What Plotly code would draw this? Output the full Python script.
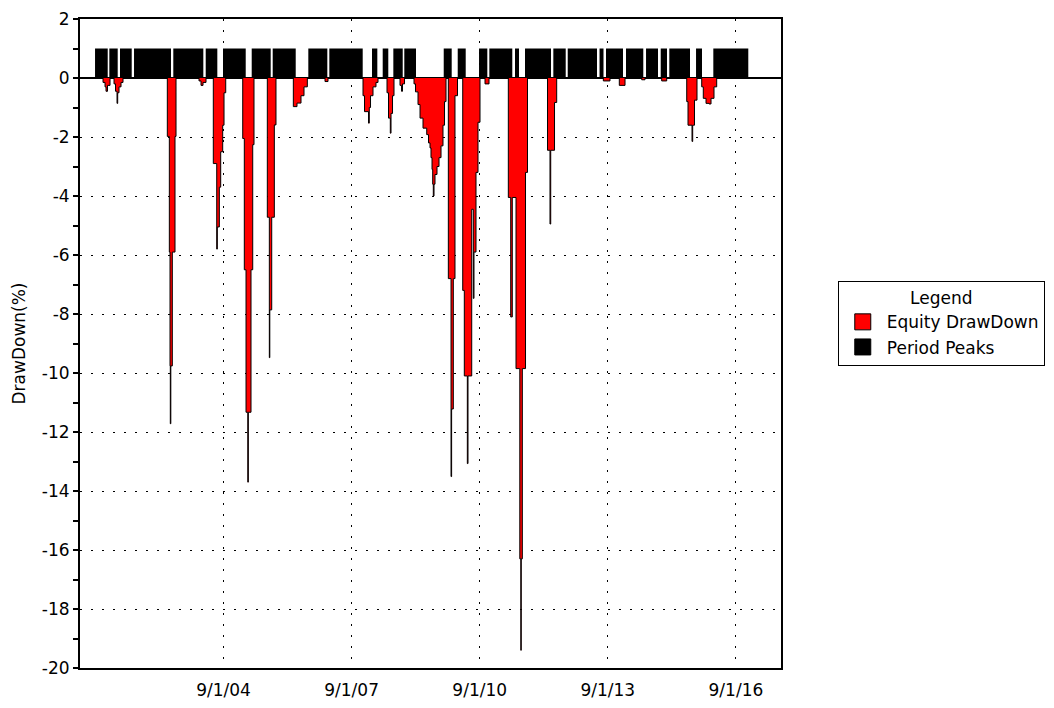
import plotly.graph_objects as go

# ---------------- data ----------------
# Period peaks: intervals (decimal years) where equity sat at a peak; drawn as height-1 blocks
peak_start = [2001.658, 2001.993, 2002.243, 2002.571, 2003.491, 2004.250, 2004.655,
              2005.327, 2005.819, 2006.653, 2007.145, 2008.145, 2008.395, 2008.644,
              2008.901, 2009.824, 2010.152, 2010.651, 2010.892, 2011.494, 2011.728,
              2012.391, 2012.728, 2013.473, 2013.625, 2014.093, 2014.562, 2014.906,
              2015.107, 2015.733, 2016.138]
peak_end = [2001.955, 2002.189, 2002.517, 2003.437, 2004.194, 2004.522, 2005.187,
            2005.772, 2006.358, 2007.098, 2007.927, 2008.269, 2008.526, 2008.864,
            2009.175, 2010.011, 2010.339, 2010.845, 2011.430, 2011.587, 2012.337,
            2012.681, 2013.414, 2013.566, 2014.023, 2014.498, 2014.843, 2015.053,
            2015.592, 2015.873, 2016.957]
peak_height = 1

# Equity drawdown (%) as a step series: (decimal year, drawdown)
dd_year = [
    2001.658,
    2001.845, 2001.892, 2001.915, 2001.950, 2002.009,
    2002.103, 2002.138, 2002.173, 2002.189, 2002.220, 2002.267, 2002.313,
    2003.351, 2003.398, 2003.414, 2003.421, 2003.433, 2003.468, 2003.531, 2003.555,
    2004.093, 2004.140, 2004.187, 2004.257,
    2004.428, 2004.508, 2004.522, 2004.569, 2004.601, 2004.648, 2004.679, 2004.719,
    2005.117, 2005.154, 2005.194, 2005.236, 2005.248, 2005.311, 2005.351, 2005.381,
    2005.693, 2005.740, 2005.751, 2005.796, 2005.857, 2005.896,
    2006.302, 2006.388, 2006.482, 2006.552, 2006.630,
    2007.044, 2007.114,
    2007.934, 2007.969, 2008.063, 2008.081, 2008.110, 2008.168, 2008.238, 2008.285,
    2008.496, 2008.531, 2008.573, 2008.590, 2008.625, 2008.660,
    2008.800, 2008.836, 2008.859, 2008.906,
    2009.128, 2009.163, 2009.222, 2009.269, 2009.339, 2009.426, 2009.468, 2009.503,
    2009.526, 2009.550, 2009.566, 2009.580, 2009.597, 2009.620, 2009.667, 2009.714,
    2009.761, 2009.807, 2009.843, 2009.878,
    2009.932, 2009.995, 2010.009, 2010.049, 2010.088, 2010.147,
    2010.269, 2010.306, 2010.377, 2010.393, 2010.480, 2010.517, 2010.533, 2010.580,
    2010.627, 2010.674,
    2010.791, 2010.885,
    2011.337, 2011.393, 2011.430, 2011.517, 2011.606, 2011.630, 2011.639, 2011.665,
    2011.740, 2011.786,
    2012.255, 2012.313, 2012.330, 2012.419, 2012.470,
    2013.562, 2013.718,
    2013.936, 2014.070,
    2014.461, 2014.538,
    2014.929, 2015.046,
    2015.515, 2015.545, 2015.639, 2015.655, 2015.697, 2015.756,
    2015.866, 2015.903, 2015.967, 2016.037, 2016.084, 2016.154, 2016.217,
    2016.957,
]
dd_value = [
    0,
    -0.15, -0.30, -0.45, -0.25, 0,
    -0.20, -0.45, -0.86, -0.50, -0.30, -0.15, 0,
    -1.98, -5.90, -9.76, -11.72, -9.76, -5.90, -1.98, 0,
    -0.10, -0.25, -0.15, 0,
    -2.90, -5.80, -5.05, -3.70, -2.50, -1.60, -0.50, 0,
    -2.05, -6.50, -11.33, -13.70, -11.33, -6.50, -2.26, 0,
    -4.72, -9.48, -7.86, -4.72, -1.59, 0,
    -0.97, -0.85, -0.60, -0.30, 0,
    -0.12, 0,
    -0.60, -1.14, -1.53, -1.00, -0.60, -0.30, -0.15, 0,
    -0.50, -1.36, -1.87, -1.20, -0.60, 0,
    -0.25, -0.45, -0.20, 0,
    -0.20, -0.47, -0.90, -1.36, -1.70, -1.92, -2.20, -2.37,
    -2.70, -3.10, -3.60, -4.00, -3.60, -3.27, -3.00, -2.70,
    -2.30, -1.60, -0.80, 0,
    -6.80, -13.51, -11.22, -6.80, -0.60, 0,
    -7.20, -10.10, -13.07, -10.10, -4.45, -7.47, -5.90, -3.20,
    -1.50, 0,
    -0.20, 0,
    -4.05, -8.10, -4.05, -9.85, -16.30, -19.40, -16.30, -9.85,
    -3.20, 0,
    -2.45, -4.95, -2.45, -0.83, 0,
    -0.10, 0,
    -0.25, 0,
    -0.06, 0,
    -0.10, 0,
    -0.80, -1.60, -2.15, -1.60, -0.75, 0,
    -0.30, -0.69, -0.86, -0.88, -0.69, -0.30, 0,
    0,
]

x_tick_vals = [2004.667, 2007.667, 2010.667, 2013.667, 2016.667]
x_tick_text = ["9/1/04", "9/1/07", "9/1/10", "9/1/13", "9/1/16"]
y_tick_vals = [2, 0, -2, -4, -6, -8, -10, -12, -14, -16, -18, -20]
y_tick_text = ["2", "0", "-2", "-4", "-6", "-8", "-10", "-12", "-14", "-16", "-18", "-20"]
y_minor_vals = [1, -1, -3, -5, -7, -9, -11, -13, -15, -17, -19]

x_range = [2001.306, 2017.723]
y_range = [-20, 2]

# ---------------- figure ----------------
FONT = "DejaVu Sans"
fig = go.Figure()

fig.add_trace(go.Bar(
    x=peak_start,
    y=[peak_height] * len(peak_start),
    width=[e - s for s, e in zip(peak_start, peak_end)],
    offset=0,
    marker=dict(color="black", line=dict(width=0)),
    showlegend=False,
    hoverinfo="skip",
))

fig.add_trace(go.Scatter(
    x=dd_year, y=dd_value,
    mode="lines",
    line=dict(color="black", width=1, shape="hv"),
    fill="tozeroy",
    fillcolor="#FF0000",
    showlegend=False,
    hoverinfo="skip",
))

# legend entries (square swatches)
fig.add_trace(go.Scatter(
    x=[None], y=[None], mode="markers", name="Equity DrawDown",
    marker=dict(symbol="square", size=16, color="#FF0000",
                line=dict(color="black", width=1)),
))
fig.add_trace(go.Scatter(
    x=[None], y=[None], mode="markers", name="Period Peaks",
    marker=dict(symbol="square", size=16, color="black",
                line=dict(color="black", width=1)),
))

fig.update_layout(
    width=1046, height=700,
    margin=dict(l=72, r=273, t=11, b=40, autoexpand=False),
    paper_bgcolor="white", plot_bgcolor="white",
    font=dict(family=FONT, size=17, color="black"),
    showlegend=True,
    legend=dict(
        x=1.081, y=0.596, xanchor="left", yanchor="top",
        bordercolor="black", borderwidth=1, bgcolor="white",
        title=dict(text="Legend", side="top center", font=dict(size=17)),
        font=dict(family=FONT, size=17),
        itemwidth=38,
        itemclick=False, itemdoubleclick=False,
    ),
    xaxis=dict(
        range=x_range, showgrid=True, gridcolor="black", gridwidth=1.2,
        griddash="2px,9px", automargin=False,
        tickmode="array", tickvals=x_tick_vals, ticktext=x_tick_text,
        ticks="", showline=True, linecolor="black", linewidth=2, mirror=True,
        zeroline=False, ticklabelstandoff=6,
    ),
    yaxis=dict(
        range=y_range, showgrid=True, gridcolor="black", gridwidth=1.2,
        griddash="2px,9px", automargin=False, ticklabeloverflow="allow",
        tickmode="array", tickvals=y_tick_vals, ticktext=y_tick_text,
        ticks="outside", ticklen=5, tickwidth=1.5, tickcolor="black",
        minor=dict(tickmode="array", tickvals=y_minor_vals, ticks="outside",
                   ticklen=5, tickwidth=1.5, tickcolor="black", showgrid=False),
        showline=True, linecolor="black", linewidth=2, mirror=True,
        zeroline=True, zerolinecolor="black", zerolinewidth=1.5,
        title=dict(text="DrawDown(%)", font=dict(size=17), standoff=12),
    ),
)

fig.write_html("out.html")
